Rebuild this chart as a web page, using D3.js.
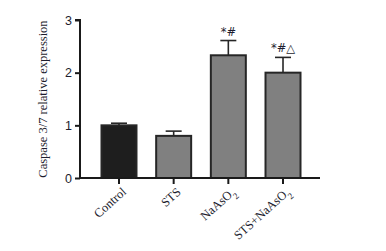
<!DOCTYPE html>
<html>
<head>
<meta charset="utf-8">
<script src="https://cdn.jsdelivr.net/npm/d3@7"></script>
<style>
  body { margin: 0; background: #fff; }
  svg { font-family: "Liberation Serif", "Times New Roman", serif; }
</style>
</head>
<body>
<svg id="chart"></svg>
<script>
var groups = ["Control", "STS", "NaAsO2", "STS+NaAsO2"]
var means = [1.0, 0.80, 2.33, 2.0]
var errors = [0.04, 0.09, 0.28, 0.29]
var marks = ["", "", "*#", "*#△"]
var fills = ["#1e1e1e", "#808080", "#808080", "#808080"]
var yTicks = [0, 1, 2, 3]

var dimensions = {
  width: 386,
  height: 251
}

var ink = "#1d1d2e"

var svg = d3.select("#chart")
  .attr("width", dimensions.width)
  .attr("height", dimensions.height)

var xScale = d3.scaleBand()
  .domain(groups)
  .range([101.5, 300.5])
  .paddingInner(0.36)
  .paddingOuter(0)

var yScale = d3.scaleLinear()
  .domain([0, 3])
  .range([178, 20])

// bars
svg.append("g")
  .selectAll("rect")
  .data(groups)
  .enter()
  .append("rect")
  .attr("x", d => xScale(d))
  .attr("width", xScale.bandwidth())
  .attr("y", (d, i) => yScale(means[i]))
  .attr("height", (d, i) => yScale(0) - yScale(means[i]))
  .attr("fill", (d, i) => fills[i])
  .attr("stroke", "#262626")
  .attr("stroke-width", 2)

// error bars
var err = svg.append("g")
  .attr("stroke", "#262626")
  .attr("stroke-width", 1.6)
groups.forEach(function (g, i) {
  var cx = xScale(g) + xScale.bandwidth() / 2
  err.append("line")
    .attr("x1", cx).attr("x2", cx)
    .attr("y1", yScale(means[i]))
    .attr("y2", yScale(means[i] + errors[i]))
  err.append("line")
    .attr("x1", cx - 8).attr("x2", cx + 8)
    .attr("y1", yScale(means[i] + errors[i]))
    .attr("y2", yScale(means[i] + errors[i]))
})

// significance marks
svg.append("g")
  .selectAll("text")
  .data(groups)
  .enter()
  .append("text")
  .attr("x", d => xScale(d) + xScale.bandwidth() / 2)
  .attr("y", (d, i) => yScale(means[i] + errors[i]) - 5)
  .attr("text-anchor", "middle")
  .attr("font-family", "DejaVu Sans, sans-serif")
  .attr("font-size", 11.5)
  .attr("fill", ink)
  .text((d, i) => marks[i])

// y axis
var yAxisGen = d3.axisLeft(yScale)
  .tickValues(yTicks)
  .tickSize(5)
  .tickFormat(d3.format("d"))
var yAxis = svg.append("g")
  .attr("transform", "translate(80,0)")
  .call(yAxisGen)
yAxis.select(".domain")
  .attr("stroke", "#1a1a1a")
  .attr("stroke-width", 2)
  .attr("d", "M-5," + yScale(3) + "H0V" + yScale(0))
yAxis.selectAll(".tick line").attr("stroke", "#1a1a1a").attr("stroke-width", 2)
yAxis.selectAll(".tick text")
  .attr("font-size", 12.5)
  .attr("fill", ink)
  .attr("x", -8)

// baseline and x ticks
svg.append("line")
  .attr("x1", 79).attr("x2", 320)
  .attr("y1", yScale(0)).attr("y2", yScale(0))
  .attr("stroke", "#1a1a1a")
  .attr("stroke-width", 2)

var xTicks = svg.append("g")
groups.forEach(function (g) {
  var cx = xScale(g) + xScale.bandwidth() / 2
  xTicks.append("line")
    .attr("x1", cx).attr("x2", cx)
    .attr("y1", yScale(0)).attr("y2", yScale(0) + 6)
    .attr("stroke", "#1a1a1a")
    .attr("stroke-width", 2)
})

// x labels, rotated
var xLabels = svg.append("g")
  .selectAll("text")
  .data(groups)
  .enter()
  .append("text")
  .attr("transform", d => "translate(" + (xScale(d) + xScale.bandwidth() / 2 + 8) + "," + (yScale(0) + 15) + ") rotate(-42)")
  .attr("text-anchor", "end")
  .attr("font-size", 12.5)
  .attr("fill", ink)

xLabels.each(function (d) {
  var t = d3.select(this)
  var m = d.match(/^(.*)O2$/)
  if (m) {
    t.append("tspan").text(m[1] + "O")
    t.append("tspan").attr("baseline-shift", "sub").attr("font-size", 9).text("2")
  } else {
    t.text(d)
  }
})

// y title
svg.append("text")
  .attr("transform", "translate(47," + (yScale(1.5)) + ") rotate(-90)")
  .attr("text-anchor", "middle")
  .attr("font-size", 12.5)
  .attr("fill", ink)
  .text("Caspase 3/7 relative expression")
</script>
</body>
</html>
